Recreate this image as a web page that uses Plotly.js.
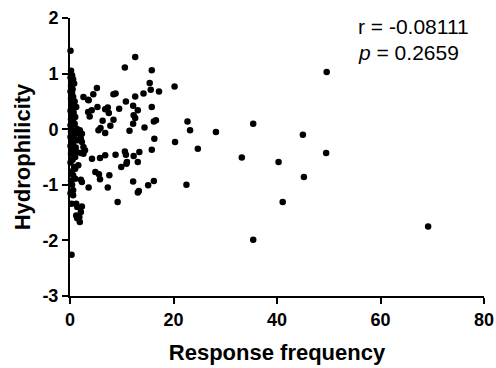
<!DOCTYPE html>
<html>
<head>
<meta charset="utf-8">
<script src="https://cdn.plot.ly/plotly-3.0.1.min.js"></script>
<style>html,body{margin:0;padding:0;background:#fff;}#chart{width:496px;height:368px;}</style>
</head>
<body>
<div id="chart"></div>
<script>
// Response frequency (x) and Hydrophilicity (y)
const responseFrequency = [
  0.1,0.2,0.4,0.1,0.6,0.3,0.8,0.2,0.5,0.1,0.4,0.6,0.2,0.9,0.3,1.2,0.5,0.1,0.7,0.3,
  1.0,0.2,0.6,0.9,0.1,0.4,1.3,0.7,0.2,1.0,0.5,0.1,0.8,1.4,0.3,0.6,0.1,1.1,0.4,1.3,
  0.2,1.0,0.5,0.1,1.6,0.8,1.0,0.3,0.6,1.0,0.2,0.4,0.6,0.1,0.6,0.3,1.2,1.4,1.2,1.4,
  0.3,
  1.3,1.9,1.9,2.3,2.1,2.3,2.6,2.9,2.1,2.6,2.1,2.3,2.3,2.1,1.8,1.9,2.6,3.5,3.6,
  4.5,5.2,8.4,8.8,10.6,12.6,15.8,15.4,15.6,17.2,20.2,14.2,12.6,10.8,12.2,13.1,15.8,9.5,7.3,6.8,
  7.5,5.3,4.2,3.5,3.8,8.4,6.3,12.3,12.6,12.2,16.2,16.6,7.8,5.9,5.5,6.8,11.5,14.4,16.3,20.3,
  4.25,5.8,6.8,8.8,10.6,10.8,12.3,13.4,15.8,9.9,10.9,11.0,13.1,4.9,5.6,5.8,7.6,3.6,7.3,12.2,
  13.3,13.1,15.1,16.2,9.2,
  49.6,22.7,23.2,28.2,35.4,45.0,24.7,33.2,49.5,40.3,22.5,45.2,41.1,35.4,69.2
];
const hydrophilicity = [
  1.41,1.05,0.97,0.93,0.90,0.86,0.82,0.78,0.72,0.68,0.64,0.58,0.55,0.50,0.46,0.40,0.38,0.33,0.30,0.26,
  0.22,0.18,0.14,0.10,0.07,0.03,0.01,-0.02,-0.05,-0.08,-0.11,-0.14,-0.17,-0.20,-0.22,-0.26,-0.30,-0.33,-0.36,-0.41,
  -0.44,-0.50,-0.55,-0.60,-0.65,-0.68,-0.71,-0.76,-0.83,-0.89,-0.93,-1.00,-1.10,-1.15,-1.19,-1.34,-1.34,-1.40,-1.55,-1.60,
  -2.26,
  -0.05,-0.09,-0.02,-0.08,-0.17,-0.23,-0.32,-0.38,-0.43,-0.44,-0.91,-0.95,-1.39,-1.49,-1.58,-1.67,0.58,0.53,0.52,
  0.63,0.74,0.63,0.64,1.11,1.30,1.06,0.83,0.71,0.68,0.77,0.64,0.59,0.50,0.42,0.34,0.40,0.37,0.39,0.36,
  0.29,0.40,0.34,0.31,0.23,0.17,0.15,0.25,0.20,0.10,0.14,0.16,0.06,0.02,-0.02,-0.07,-0.03,0.03,-0.17,-0.23,
  -0.53,-0.52,-0.47,-0.46,-0.40,-0.46,-0.48,-0.41,-0.37,-0.68,-0.62,-0.59,-0.59,-0.77,-0.81,-0.90,-0.83,-1.05,-1.05,-0.94,
  -1.11,-1.14,-1.01,-0.93,-1.31,
  1.03,0.14,-0.02,-0.05,0.10,-0.10,-0.35,-0.51,-0.43,-0.59,-1.00,-0.86,-1.31,-1.99,-1.75
];
const xTicks = [0, 20, 40, 60, 80];
const yTicks = [-3, -2, -1, 0, 1, 2];
const statLines = ['r = -0.08111', '<i>p</i> = 0.2659'];

const font = 'Liberation Sans, Arial, Helvetica, sans-serif';

const trace = {
  x: responseFrequency,
  y: hydrophilicity,
  type: 'scatter',
  mode: 'markers',
  marker: {color: '#000', size: 6.5},
  cliponaxis: false,
  hoverinfo: 'skip'
};

const axisCommon = {
  showgrid: false,
  zeroline: false,
  showline: true,
  linecolor: '#000',
  linewidth: 2,
  ticks: 'outside',
  ticklen: 6,
  tickwidth: 2,
  tickcolor: '#000',
  tickfont: {family: font, size: 18, color: '#000'},
  fixedrange: true
};

const layout = {
  width: 496,
  height: 368,
  margin: {l: 70, r: 12, t: 18, b: 72},
  paper_bgcolor: '#fff',
  plot_bgcolor: '#fff',
  showlegend: false,
  font: {family: font, color: '#000'},
  xaxis: Object.assign({}, axisCommon, {
    range: [0, 80],
    tickvals: xTicks,
    ticktext: xTicks.map(v => '<b>' + v + '</b>'),
    title: {text: '<b>Response frequency</b>', font: {family: font, size: 22, color: '#000'}, standoff: 16}
  }),
  yaxis: Object.assign({}, axisCommon, {
    range: [-3, 2],
    tickvals: yTicks,
    ticktext: yTicks.map(v => '<b>' + v + '</b>'),
    title: {text: '<b>Hydrophilicity</b>', font: {family: font, size: 22, color: '#000'}, standoff: 6}
  }),
  annotations: [
    {x: 55.3, y: 1.84, xref: 'x', yref: 'y', text: statLines[0], showarrow: false, xanchor: 'left', yanchor: 'middle', font: {family: font, size: 21, color: '#000'}},
    {x: 55.3, y: 1.38, xref: 'x', yref: 'y', text: statLines[1], showarrow: false, xanchor: 'left', yanchor: 'middle', font: {family: font, size: 21, color: '#000'}}
  ]
};

Plotly.newPlot('chart', [trace], layout, {displayModeBar: false, staticPlot: true});
</script>
</body>
</html>
